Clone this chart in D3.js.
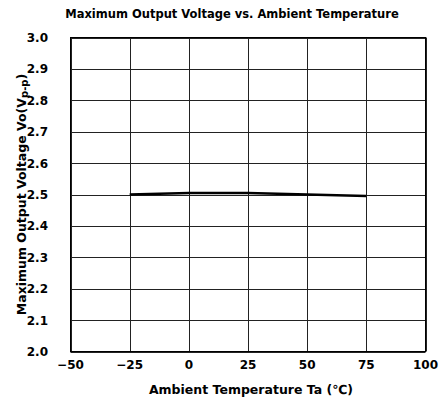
<!DOCTYPE html>
<html>
<head>
<meta charset="utf-8">
<script src="https://cdn.jsdelivr.net/npm/d3@7"></script>
<style>
  body { margin: 0; background: #fff; }
  text { font-family: "DejaVu Sans", sans-serif; fill: #000; }
</style>
</head>
<body>
<div id="chart"></div>
<script>
// ======= data
var temps = [-25, 0, 25, 50, 75];
var voltages = [2.500, 2.505, 2.505, 2.500, 2.495];
var xTicks = [-50, -25, 0, 25, 50, 75, 100];
var yTicks = [2.0, 2.1, 2.2, 2.3, 2.4, 2.5, 2.6, 2.7, 2.8, 2.9, 3.0];

var w = 440, h = 403;
var pLeft = 70.5, pRight = 425.5, pTop = 37.5, pBottom = 351.5;

var svg = d3.select("#chart")
  .append("svg")
  .attr("width", w)
  .attr("height", h);

var x = d3.scaleLinear().domain([-50, 100]).range([pLeft, pRight]);
var y = d3.scaleLinear().domain([2.0, 3.0]).range([pBottom, pTop]);

// ======= grid
svg.selectAll("line.vgrid")
  .data(xTicks)
  .enter()
  .append("line")
  .attr("x1", function(d) { return Math.round(x(d)) + 0.5; })
  .attr("x2", function(d) { return Math.round(x(d)) + 0.5; })
  .attr("y1", pTop)
  .attr("y2", pBottom)
  .attr("stroke", "#222")
  .attr("stroke-width", 1);

svg.selectAll("line.hgrid")
  .data(yTicks)
  .enter()
  .append("line")
  .attr("x1", pLeft)
  .attr("x2", pRight)
  .attr("y1", function(d) { return Math.round(y(d)) + 0.5; })
  .attr("y2", function(d) { return Math.round(y(d)) + 0.5; })
  .attr("stroke", "#222")
  .attr("stroke-width", 1);

svg.append("rect")
  .attr("x", pLeft)
  .attr("y", pTop)
  .attr("width", pRight - pLeft)
  .attr("height", pBottom - pTop)
  .attr("fill", "none")
  .attr("stroke", "#000")
  .attr("stroke-width", 1);

// ======= data line
var line = d3.line()
  .x(function(d, j) { return x(temps[j]); })
  .y(function(d) { return y(d); });

svg.append("path")
  .datum(voltages)
  .attr("d", line)
  .attr("fill", "none")
  .attr("stroke", "#000")
  .attr("stroke-width", 2.5);

// ======= tick labels
svg.selectAll("text.xt")
  .data(xTicks)
  .enter()
  .append("text")
  .text(function(d) { return d < 0 ? "\u2212" + Math.abs(d) : d; })
  .attr("x", function(d) { return x(d); })
  .attr("y", 369)
  .attr("text-anchor", "middle")
  .attr("font-weight", "bold")
  .attr("font-size", "12px");

svg.selectAll("text.yt")
  .data(yTicks)
  .enter()
  .append("text")
  .text(function(d) { return d.toFixed(1); })
  .attr("x", 48)
  .attr("y", function(d) { return y(d) + 4.5; })
  .attr("text-anchor", "end")
  .attr("font-weight", "bold")
  .attr("font-size", "12px");

// ======= titles
svg.append("text")
  .text("Maximum Output Voltage vs. Ambient Temperature")
  .attr("x", 232)
  .attr("y", 18)
  .attr("text-anchor", "middle")
  .attr("font-weight", "bold")
  .attr("font-size", "11.5px");

svg.append("text")
  .text("Ambient Temperature Ta (\u2103)")
  .attr("x", 251)
  .attr("y", 394)
  .attr("text-anchor", "middle")
  .attr("font-weight", "bold")
  .attr("font-size", "12.5px");

var yt = svg.append("text")
  .attr("transform", "translate(26," + ((pTop + pBottom) / 2) + ") rotate(-90)")
  .attr("text-anchor", "middle")
  .attr("font-weight", "bold")
  .attr("font-size", "12.5px");
yt.append("tspan").text("Maximum Output Voltage Vo(V");
yt.append("tspan").text("p-p").attr("font-size", "10px").attr("dy", 2);
yt.append("tspan").text(")").attr("dy", -2);
</script>
</body>
</html>
